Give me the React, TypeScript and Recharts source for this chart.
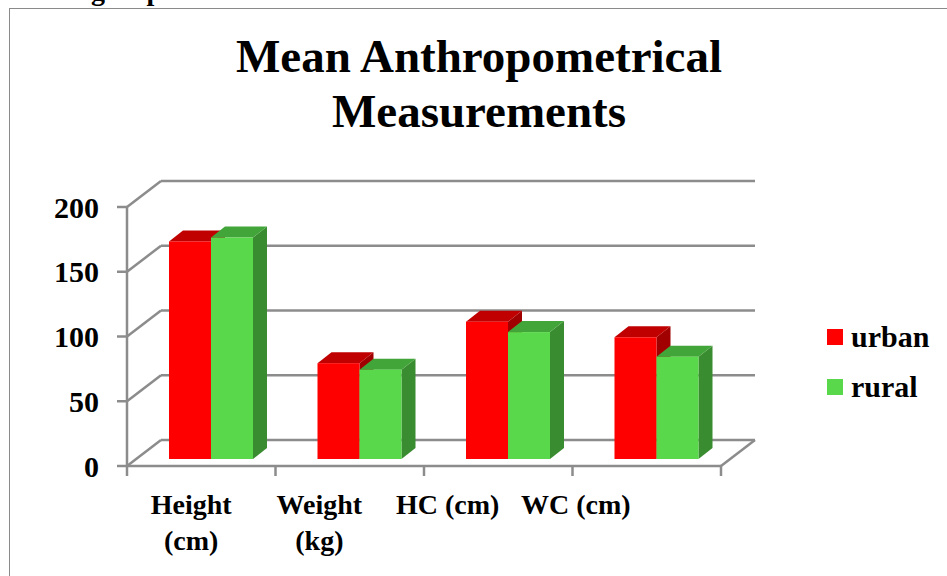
import React from "react";
import {
  BarChart, Bar, XAxis, YAxis, CartesianGrid, Legend, ReferenceLine,
} from "recharts";

const categories = ["Height (cm)", "Weight (kg)", "HC (cm)", "WC (cm)"];
const categoryLines = [["Height", "(cm)"], ["Weight", "(kg)"], ["HC (cm)"], ["WC (cm)"]];
const seriesNames = ["urban", "rural"];
const urban = [168, 74, 106, 94];
const rural = [171, 69, 98, 79];
const yTicks = [0, 50, 100, 150, 200];

const data = categories.map((name, i) => ({
  name,
  urban: urban[i],
  rural: rural[i],
}));

const FONT = '"Liberation Serif", "Times New Roman", serif';
const GRID = "#8c8c8c";
// oblique offset of the back wall, and of the bars inside the box
const WALL_DX = 34;
const WALL_DY = -26;
const BAR_DX = 10;
const BAR_DY = -7;
const DEPTH_DX = 14;
const DEPTH_DY = -11;

const make3DBar = (front: string, top: string, side: string) => (props: any) => {
  const { x, y, width, height } = props;
  if (width == null || height == null) return <g />;
  const fx = x + BAR_DX;
  const fy = y + BAR_DY;
  const topPts = [
    [fx, fy], [fx + DEPTH_DX, fy + DEPTH_DY],
    [fx + width + DEPTH_DX, fy + DEPTH_DY], [fx + width, fy],
  ].map((p) => p.join(",")).join(" ");
  const sidePts = [
    [fx + width, fy], [fx + width + DEPTH_DX, fy + DEPTH_DY],
    [fx + width + DEPTH_DX, fy + height + DEPTH_DY], [fx + width, fy + height],
  ].map((p) => p.join(",")).join(" ");
  return (
    <g>
      <polygon points={sidePts} fill={side} />
      <polygon points={topPts} fill={top} />
      <rect x={fx} y={fy} width={width} height={height} fill={front} />
    </g>
  );
};

const BackWallLine = (props: any) => {
  const { x1, y1, x2 } = props;
  return (
    <g>
      <line x1={x1} y1={y1} x2={x1 + WALL_DX} y2={y1 + WALL_DY} stroke={GRID} strokeWidth={2.5} />
      <line x1={x1 + WALL_DX} y1={y1 + WALL_DY} x2={x2 + WALL_DX} y2={y1 + WALL_DY} stroke={GRID} strokeWidth={2.5} />
    </g>
  );
};

const FloorFront = (props: any) => {
  const { x1, y1, x2 } = props;
  const n = categories.length;
  const step = (x2 - x1) / n;
  return (
    <g>
      <line x1={x1} y1={y1} x2={x2} y2={y1} stroke={GRID} strokeWidth={2.5} />
      <line x1={x2} y1={y1} x2={x2 + WALL_DX} y2={y1 + WALL_DY} stroke={GRID} strokeWidth={2.5} />
      {Array.from({ length: n + 1 }, (_, k) => (
        <line key={k} x1={x1 + k * step} y1={y1} x2={x1 + k * step} y2={y1 + 10} stroke={GRID} strokeWidth={2.5} />
      ))}
    </g>
  );
};

const CategoryTick = (props: any) => {
  const { x, y, index } = props;
  const lines = categoryLines[index] ?? [];
  return (
    <text x={x} y={y} textAnchor="middle" fontFamily={FONT} fontWeight="bold" fontSize={28} fill="#000">
      {lines.map((l, i) => (
        <tspan key={i} x={x} y={y + 18 + i * 36}>{l}</tspan>
      ))}
    </text>
  );
};

const LegendContent = (props: any) => {
  const items = [...(props.payload ?? [])].sort(
    (a: any, b: any) => seriesNames.indexOf(a.value) - seriesNames.indexOf(b.value),
  );
  return (
    <div style={{ fontFamily: FONT, fontWeight: "bold", fontSize: 30, color: "#000" }}>
      {items.map((it: any) => (
        <div key={it.value} style={{ display: "flex", alignItems: "center", height: 50 }}>
          <span style={{ width: 16, height: 16, background: it.color, display: "inline-block", marginRight: 8 }} />
          <span style={{ lineHeight: "34px" }}>{it.value}</span>
        </div>
      ))}
    </div>
  );
};

export default function App() {
  return (
    <div style={{ position: "fixed", left: 0, top: 0, width: 947, height: 576, overflow: "hidden", background: "#fff" }}>
      <div style={{
        position: "absolute", left: 91, top: -23.5, fontFamily: FONT, fontWeight: "bold",
        fontSize: 28, lineHeight: "28px", color: "#000",
      }}>
        groups
      </div>
      <div style={{
        position: "absolute", left: 9, top: 8, width: 1200, height: 1000,
        border: "1.5px solid #8a8a8a", boxSizing: "border-box",
      }} />
      <div style={{ position: "absolute", left: 0, top: 0 }}>
        <BarChart
          width={947}
          height={576}
          data={data}
          margin={{ top: 207, right: 226, left: 0, bottom: 50 }}
          barSize={42}
          barGap={0}
        >
          <CartesianGrid vertical={false} horizontal={BackWallLine} />
          <XAxis dataKey="name" hide />
          <XAxis
            xAxisId="lbl"
            dataKey="name"
            height={60}
            padding={{ left: 0, right: 81 }}
            axisLine={false}
            tickLine={false}
            tickSize={0}
            tickMargin={0}
            interval={0}
            tick={<CategoryTick />}
          />
          <YAxis
            width={127}
            domain={[0, 200]}
            ticks={yTicks}
            interval={0}
            axisLine={{ stroke: GRID, strokeWidth: 2.5 }}
            tickLine={{ stroke: GRID, strokeWidth: 2.5 }}
            tickSize={10}
            tickMargin={18}
            tick={{ fontFamily: FONT, fontWeight: "bold", fontSize: 30, fill: "#000" }}
          />
          <ReferenceLine y={0} shape={FloorFront} />
          <Legend
            layout="vertical"
            align="center"
            verticalAlign="middle"
            wrapperStyle={{ left: 827, top: 312, width: "auto" }}
            content={LegendContent}
          />
          <Bar dataKey="urban" name="urban" fill="#ff0000" legendType="square"
            shape={make3DBar("#ff0000", "#c00000", "#a00000")} isAnimationActive={false} />
          <Bar dataKey="rural" name="rural" fill="#58d84a" legendType="square"
            shape={make3DBar("#58d84a", "#42a539", "#3a8c30")} isAnimationActive={false} />
        </BarChart>
      </div>
      <div style={{
        position: "absolute", left: 0, top: 29, width: 958, textAlign: "center",
        fontFamily: FONT, fontWeight: "bold", fontSize: 47, lineHeight: "55px", color: "#000",
      }}>
        Mean Anthropometrical<br />Measurements
      </div>
    </div>
  );
}
